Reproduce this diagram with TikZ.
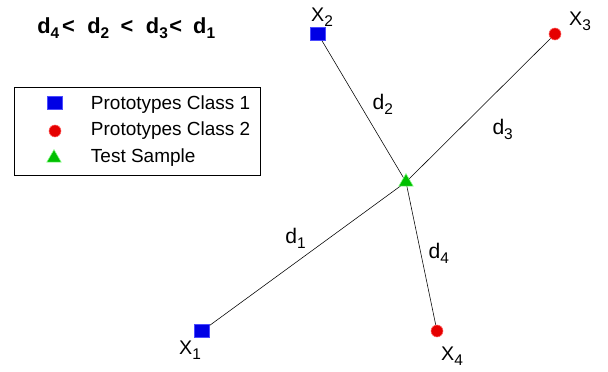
\documentclass[tikz,border=0pt]{standalone}
\usepackage{fontspec}
\setmainfont{Liberation Sans}
\usetikzlibrary{shapes.geometric, positioning}

\newcommand{\idx}[1]{\raisebox{-0.45ex}{\fontsize{11}{12}\selectfont#1}}

\tikzset{
  classone/.style={draw=blue!70, fill=blue!90!black, rectangle, minimum width=0.37cm, minimum height=0.33cm, inner sep=0pt},
  classtwo/.style={draw=red!60, fill=red!90!black, circle, minimum size=0.3cm, inner sep=0pt},
  testmark/.style={draw=green!45, fill=green!75!black, regular polygon, regular polygon sides=3, minimum size=0.42cm, inner sep=0pt},
  ptlabel/.style={font=\fontsize{14}{16}\selectfont, inner sep=1pt},
  dlabel/.style={font=\fontsize{15}{17}\selectfont, inner sep=1pt},
  keytext/.style={anchor=west, font=\fontsize{13.5}{15}\selectfont}
}

\begin{document}
\begin{tikzpicture}[x=0.025cm, y=-0.025cm]
    \useasboundingbox (0,0) rectangle (608,372);

    % Ordering of the distances
    \node [font=\bfseries\fontsize{15.5}{17}\selectfont, anchor=west, inner sep=0pt] (order) at (37,28)
      {d\idx{4}\hspace{2pt}<\hspace{9pt}d\idx{2}\hspace{8pt}<\hspace{9pt}d\idx{3}\hspace{1pt}<\hspace{8pt}d\idx{1}};

    % Legend
    \node [draw, semithick, rectangle, minimum width=6.15cm, minimum height=2.2cm] (legend) at (137,131) {};
    \node [classone] (keyone) at (55,103) {};
    \node [classtwo] (keytwo) at (55,131) {};
    \node [testmark] (keytest) at (54,158) {};
    \node [keytext] (txtone) at (86,105) {Prototypes Class 1};
    \node [keytext] (txttwo) at (86,131) {Prototypes Class 2};
    \node [keytext] (txttest) at (86,158) {Test Sample};

    % Samples
    \coordinate (t) at (406,182);
    \node [classone] (x1) at (202,331) {};
    \node [classone] (x2) at (318,34) {};
    \node [classtwo] (x3) at (555,34) {};
    \node [classtwo] (x4) at (437,331) {};

    % Distances
    \draw (t) -- node[dlabel, pos=0.504, xshift=-0.29cm, yshift=0.40cm] {d\idx{1}} (x1);
    \draw (t) -- node[dlabel, pos=0.476, xshift=0.42cm, yshift=0.25cm] {d\idx{2}} (x2);
    \draw (t) -- node[dlabel, pos=0.518, xshift=0.545cm, yshift=-0.55cm] {d\idx{3}} (x3);
    \draw (t) -- node[dlabel, pos=0.522, xshift=0.43cm, yshift=0.09cm] {d\idx{4}} (x4);
    \node [testmark] (test) at (t) {};

    % Point names
    \node [ptlabel] (lx1) at ([shift={(-12,19)}]x1) {X\idx{1}};
    \node [ptlabel] (lx2) at ([shift={(4,-17)}]x2) {X\idx{2}};
    \node [ptlabel] (lx3) at ([shift={(25,-13)}]x3) {X\idx{3}};
    \node [ptlabel] (lx4) at ([shift={(15,25)}]x4) {X\idx{4}};
\end{tikzpicture}
\end{document}
